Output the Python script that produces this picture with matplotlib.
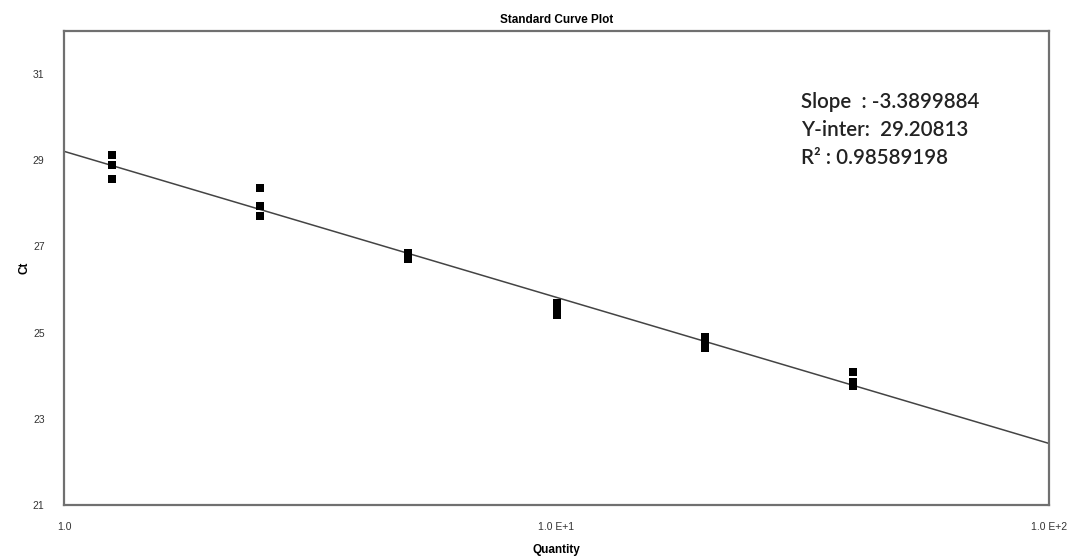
import matplotlib
matplotlib.use("Agg")
import matplotlib.pyplot as plt
import numpy as np

quantity = [1.25, 1.25, 1.25, 2.5, 2.5, 2.5, 5, 5, 5, 10, 10, 10, 20, 20, 20, 40, 40, 40]
ct = [29.12, 28.88, 28.56, 28.35, 27.93, 27.70, 26.85, 26.78, 26.72,
      25.68, 25.56, 25.42, 24.91, 24.77, 24.65, 24.09, 23.86, 23.76]
slope = -3.3899884
intercept = 29.20813
r2 = 0.98589198
y_ticks = [21, 23, 25, 27, 29, 31]
x_ticks = [1, 10, 100]
x_tick_labels = ["1.0", "1.0 E+1", "1.0 E+2"]

fig = plt.figure(figsize=(10.76, 5.6), dpi=100)
ax = fig.add_axes([0.0595, 0.0982, 0.9155, 0.8464])
ax.set_xscale("log")
ax.set_xlim(1, 100)
ax.set_ylim(21, 32)

xl = np.array([1.0, 100.0])
ax.plot(xl, slope * np.log10(xl) + intercept, color="#444444", lw=1.1, zorder=2)
ax.scatter(quantity, ct, marker="s", s=30, color="black", zorder=3, linewidths=0)

ax.set_yticks(y_ticks)
ax.set_yticklabels([str(v) for v in y_ticks], fontsize=7.5, color="#333333")
ax.set_xticks(x_ticks)
ax.set_xticklabels(x_tick_labels, fontsize=7.5, color="#333333")
ax.xaxis.set_minor_locator(matplotlib.ticker.NullLocator())
ax.tick_params(axis="y", length=0, pad=14)
ax.tick_params(axis="x", length=0, pad=12)
for lab in ax.get_yticklabels() + ax.get_xticklabels():
    lab.set_fontfamily("Liberation Sans")

for sp in ax.spines.values():
    sp.set_color("#707070")
    sp.set_linewidth(1.6)

ax.set_title("Standard Curve Plot", fontsize=8.5, fontweight="bold",
             family="Liberation Sans", pad=6)
ax.set_xlabel("Quantity", fontsize=8.5, fontweight="bold", family="Liberation Sans", labelpad=9)
ax.set_ylabel("Ct", fontsize=8.5, fontweight="bold", family="Liberation Sans", labelpad=2)

txt = "Slope  : %.7f\nY-inter:  %.5f\nR\u00b2 : %.8f" % (slope, intercept, r2)
ax.text(0.748, 0.871, txt, transform=ax.transAxes, fontsize=14.8, family="Lato",
        fontweight="semibold", color="#222222", va="top", ha="left", linespacing=1.5)

fig.savefig("out.png", dpi=100)
